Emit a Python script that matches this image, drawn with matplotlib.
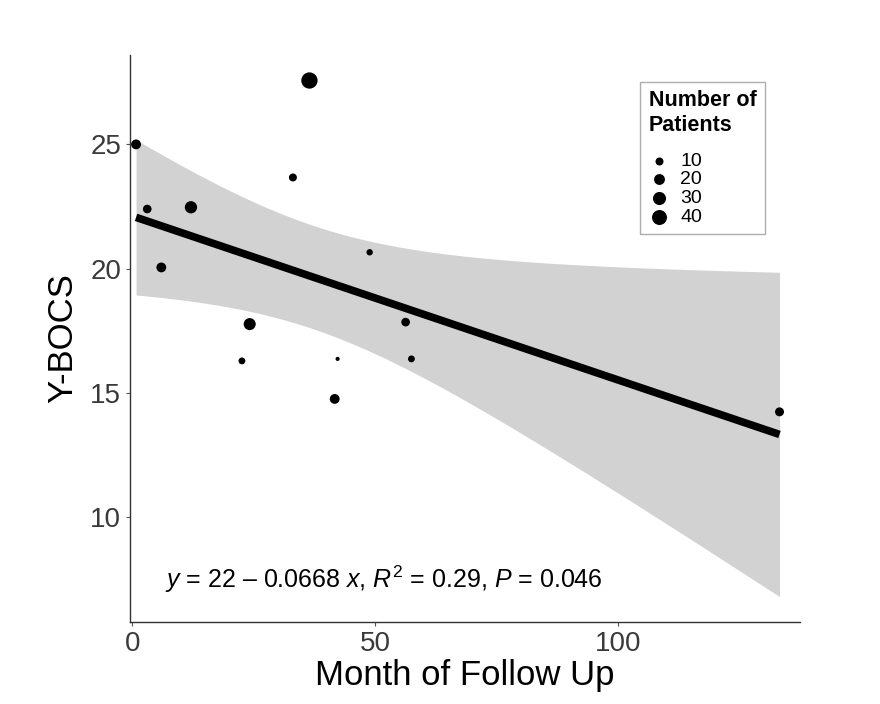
import numpy as np
import matplotlib
matplotlib.use('Agg')
import matplotlib.pyplot as plt

plt.rcParams['font.family'] = ['Liberation Sans', 'DejaVu Sans']
plt.rcParams['mathtext.fontset'] = 'custom'
plt.rcParams['mathtext.rm'] = 'Liberation Sans'
plt.rcParams['mathtext.it'] = 'Liberation Sans:italic'

# datos
meses = [0.8, 3.1, 6.0, 12.1, 36.5, 33.1, 24.2, 22.6, 42.3, 41.7, 48.9, 56.3, 57.5, 133.3]
ybocs = [25.0, 22.4, 20.05, 22.47, 27.57, 23.67, 17.77, 16.29, 16.37, 14.76, 20.66, 17.85, 16.37, 14.24]
pacientes = [16, 12, 16, 26, 48, 10, 25, 7, 2, 16, 6, 12, 7, 13]
leyenda_n = [10, 20, 30, 40]

x = np.array(meses)
y = np.array(ybocs)


def tamano(n):
    d = 1.0 + 2.21 * np.sqrt(np.asarray(n, dtype=float))  # diámetro en px
    return (d * 0.72) ** 2


# regresión lineal + intervalo de confianza 95%
X = np.column_stack([np.ones_like(x), x])
XtX_inv = np.linalg.inv(X.T @ X)
beta = XtX_inv @ X.T @ y
res = y - X @ beta
sigma2 = (res ** 2).sum() / (len(x) - 2)
xs = np.linspace(x.min(), x.max(), 200)
Xs = np.column_stack([np.ones_like(xs), xs])
ys = Xs @ beta
se = np.sqrt(sigma2 * np.einsum('ij,jk,ik->i', Xs, XtX_inv, Xs))
t = 2.179

fig = plt.figure(figsize=(8.8, 7.04), dpi=100)
ax = fig.add_axes([0.148, 0.117, 0.761, 0.805])

ax.fill_between(xs, ys - t * se, ys + t * se, color='#D2D2D2', lw=0)
ax.plot(xs, ys, color='black', lw=5.5, solid_capstyle='butt')
ax.scatter(x, y, s=tamano(pacientes), color='black', zorder=3, lw=0)

ax.text(6.8, 7.5, r'$y$ = 22 – 0.0668 $x$, $R^2$ = 0.29, $P$ = 0.046', fontsize=18, va='center')

ax.set_xlim(-0.4, 137.5)
ax.set_ylim(5.8, 28.6)
ax.set_xticks([0, 50, 100])
ax.set_yticks([10, 15, 20, 25])
ax.tick_params(labelsize=20, length=3, color='#555555', labelcolor='#3A3A3A')
for s in ['top', 'right']:
    ax.spines[s].set_visible(False)
for s in ['left', 'bottom']:
    ax.spines[s].set_color('#333333')
    ax.spines[s].set_linewidth(1.0)
ax.set_xlabel('Month of Follow Up', fontsize=25, labelpad=2)
ax.set_ylabel('Y-BOCS', fontsize=25, labelpad=8)

handles = [plt.scatter([], [], s=tamano(n), color='black', lw=0) for n in leyenda_n]
leg = ax.legend(handles, [str(n) for n in leyenda_n], title='Number of\nPatients',
                loc='upper left', bbox_to_anchor=(0.747, 0.97), fontsize=14,
                title_fontproperties={'weight': 'bold', 'size': 15.5},
                frameon=True, fancybox=False, edgecolor='#999999',
                labelspacing=0.05, handletextpad=0.6, borderpad=0.45, handlelength=1.0)
leg._legend_box.align = 'left'
leg._legend_box.sep = 12
leg.get_frame().set_linewidth(1.0)

fig.savefig('out.png', dpi=100)
